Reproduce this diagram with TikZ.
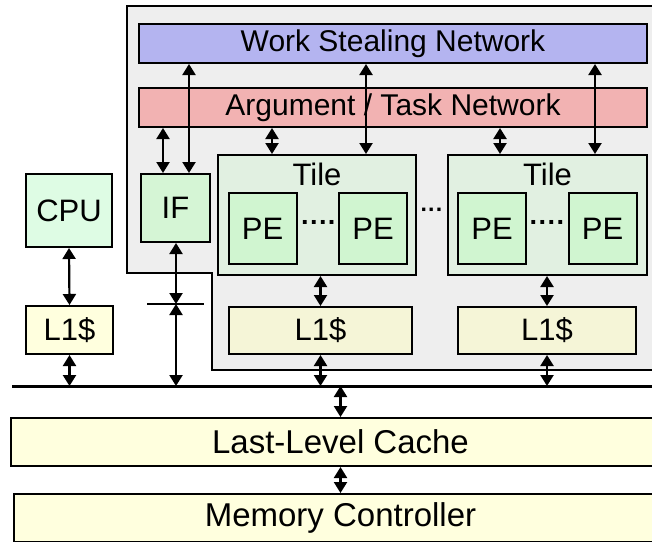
\documentclass[tikz,border=0pt]{standalone}
\usepackage{fontspec}
\setmainfont{Liberation Sans}
\usetikzlibrary{arrows.meta}
\definecolor{wsblue}{RGB}{180,180,240}
\definecolor{atred}{RGB}{242,178,178}
\definecolor{regiongray}{RGB}{238,238,238}
\definecolor{tilegreen}{RGB}{225,240,225}
\definecolor{pegreen}{RGB}{208,245,208}
\definecolor{ifgreen}{RGB}{213,245,213}
\definecolor{cpugreen}{RGB}{222,252,228}
\definecolor{cacheyellow}{RGB}{245,245,215}
\definecolor{llcyellow}{RGB}{255,255,222}

\begin{document}
\begin{tikzpicture}[x=1pt,y=-1pt]
		\tikzset{
			blk/.style={draw,line width=2pt,inner sep=0pt,font=\fontsize{31}{36}\selectfont},
			net/.style={blk,minimum width=508,minimum height=39,font=\fontsize{30}{36}\selectfont},
			pe/.style={blk,fill=pegreen,minimum width=68,minimum height=71},
			tile/.style={blk,fill=tilegreen,minimum width=198,minimum height=120},
			l1/.style={blk,fill=cacheyellow,minimum height=47},
			big/.style={blk,fill=llcyellow,minimum height=48,font=\fontsize{33}{38}\selectfont},
			dots/.style={inner sep=0pt,font=\fontsize{27}{30}\selectfont\bfseries},
			biarrow/.style={{Triangle[width=13pt,length=11pt]}-{Triangle[width=13pt,length=11pt]},line width=2.2pt},
		}
		\clip (0,0) rectangle (652,541);
		% gray accelerator region
		\draw[line width=2pt,fill=regiongray] (127,6) -- (127,273) -- (212,273) -- (212,370)
			-- (700,370) -- (700,6) -- cycle;

		\node[net,fill=wsblue] (wsn) at (393,43.5) {Work Stealing Network};
		\node[net,fill=atred] (atn) at (393,107.5) {Argument / Task Network};

		\node[blk,fill=ifgreen,minimum width=69,minimum height=68] (if) at (175.5,208) {IF};

		\node[tile] (tile1) at (317,215) {};
		\node[tile,minimum width=199] (tile2) at (547.5,215) {};
		\node[blk,draw=none,anchor=base] (tlab1) at (317,185) {Tile};
		\node[blk,draw=none,anchor=base] (tlab2) at (547.5,185) {Tile};
		\node[pe] (pe1) at (262.5,228.5) {PE};
		\node[pe] (pe2) at (373,228.5) {PE};
		\node[pe] (pe3) at (492,228.5) {PE};
		\node[pe] (pe4) at (602.5,228.5) {PE};
		\node[dots] (dt1) at (319,226) {····};
		\node[dots] (dt2) at (547.5,226) {····};
		\node[dots,font=\fontsize{23}{26}\selectfont\bfseries] (dt3) at (432,213) {···};

		\node[l1,minimum width=183] (l1a) at (320.5,330.5) {L1\$};
		\node[l1,minimum width=178] (l1b) at (547,330.5) {L1\$};

		\node[blk,fill=cpugreen,minimum width=86,minimum height=73] (cpu) at (69,210.5) {CPU};
		\node[blk,fill=llcyellow,minimum width=87,minimum height=48] (l1c) at (69.5,330) {L1\$};

		\node[big,minimum width=659] (llc) at (340.5,442) {Last-Level Cache};
		\node[big,minimum width=653,minimum height=48] (mc) at (340.5,518) {Memory Controller};

		% bus and the cut on the IF link
		\coordinate (busl) at (12,386);
		\coordinate (busr) at (660,386);
		\draw[line width=3pt] (busl) -- (busr);
		\coordinate (tick) at (176,304);
		\draw[line width=1.5pt] ([xshift=-29]tick) -- ([xshift=28]tick);

		% links
		\draw[biarrow] ([xshift=13.5]if.north) -- ([xshift=13.5]if.north |- wsn.south);
		\draw[biarrow] ([xshift=-12.5]if.north) -- ([xshift=-12.5]if.north |- atn.south);
		\draw[biarrow] ([xshift=-45]tile1.north) -- ([xshift=-45]tile1.north |- atn.south);
		\draw[biarrow] ([xshift=49]tile1.north) -- ([xshift=49]tile1.north |- wsn.south);
		\draw[biarrow] ([xshift=-47.5]tile2.north) -- ([xshift=-47.5]tile2.north |- atn.south);
		\draw[biarrow] ([xshift=47.5]tile2.north) -- ([xshift=47.5]tile2.north |- wsn.south);
		\draw[biarrow] (l1a.north) -- (l1a.north |- tile1.south);
		\draw[biarrow] (l1b.north) -- (l1b.north |- tile2.south);
		\draw[biarrow] (l1a.south) -- (l1a.south |- busl);
		\draw[biarrow] (l1b.south) -- (l1b.south |- busl);
		\draw[biarrow] (cpu.south) -- (l1c.north);
		\draw[biarrow] (l1c.south) -- (l1c.south |- busl);
		\draw[biarrow] (tick |- if.south) -- (tick);
		\draw[biarrow] (tick) -- (tick |- busl);
		\draw[biarrow] (llc.north) -- (llc.north |- busl);
		\draw[biarrow] (llc.south) -- (mc.north);
	\end{tikzpicture}
\end{document}
